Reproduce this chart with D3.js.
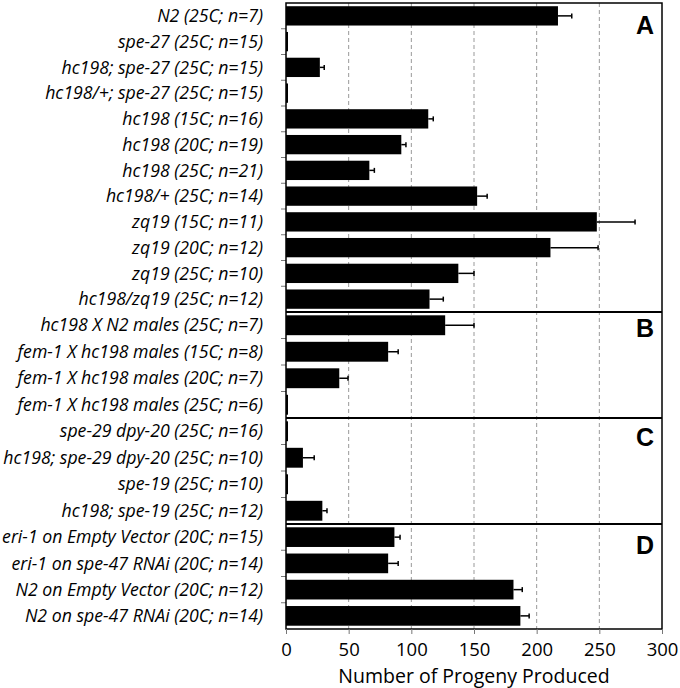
<!doctype HTML>
<html lang="en">
<head>
<title>Number of progeny produced</title>
<script src="https://d3js.org/d3.v7.min.js"></script>
<style type="text/css">
  body { margin: 0; background: white; }
  .label text { font-family: "Open Sans", sans-serif; font-style: italic; font-size: 17.7px; }
  .axis text { font-family: "Open Sans", sans-serif; font-size: 18.5px; }
</style>
</head>
<body>
<script type="text/javascript">

// data
var labels = [
	"N2 (25C; n=7)", "spe-27 (25C; n=15)", "hc198; spe-27 (25C; n=15)", "hc198/+; spe-27 (25C; n=15)",
	"hc198 (15C; n=16)", "hc198 (20C; n=19)", "hc198 (25C; n=21)", "hc198/+ (25C; n=14)",
	"zq19 (15C; n=11)", "zq19 (20C; n=12)", "zq19 (25C; n=10)", "hc198/zq19 (25C; n=12)",
	"hc198 X N2 males (25C; n=7)", "fem-1 X hc198 males (15C; n=8)", "fem-1 X hc198 males (20C; n=7)", "fem-1 X hc198 males (25C; n=6)",
	"spe-29 dpy-20 (25C; n=16)", "hc198; spe-29 dpy-20 (25C; n=10)", "spe-19 (25C; n=10)", "hc198; spe-19 (25C; n=12)",
	"eri-1 on Empty Vector (20C; n=15)", "eri-1 on spe-47 RNAi (20C; n=14)", "N2 on Empty Vector (20C; n=12)", "N2 on spe-47 RNAi (20C; n=14)"
];
var means = [217, 0.4, 27, 0.3, 113.5, 92, 66.5, 152.5, 248, 211, 137.5, 114.5,
	127, 81.5, 42.5, 0.3, 0.5, 13.5, 0.3, 29, 86.5, 81.5, 181.5, 187];
var errs = [11, 0, 3.5, 0, 4, 3.7, 4, 8, 30.5, 38, 12.5, 11,
	23, 8, 7, 0, 0, 9, 0, 3.7, 4.5, 8, 7, 7];
var panels = ["A", "B", "C", "D"];
var panelSizes = [12, 4, 4, 4];
var xTicks = [0, 50, 100, 150, 200, 250, 300];
var xTitle = "Number of Progeny Produced";

var W = 680, H = 688;
var plotLeft = 286, plotRight = 662, plotTop = 3, plotBottom = 629;
// the four panels were pasted together, so their heights are a bit uneven
var panelBounds = [[plotTop, 312], [312, 418], [418, 524], [524, plotBottom]];
var letterY = [25, 328, 437, 545];

var svg = d3.select("body").append("svg")
	.attr("width", W)
	.attr("height", H);

var x = d3.scaleLinear().domain([0, 300]).range([plotLeft, plotRight]);

// dashed gridlines
svg.append("g").selectAll("line")
	.data(xTicks.slice(1, -1))
	.enter().append("line")
	.attr("x1", d => x(d)).attr("x2", d => x(d))
	.attr("y1", plotTop).attr("y2", plotBottom)
	.attr("stroke", "#999")
	.attr("stroke-width", 1)
	.attr("stroke-dasharray", "4,3");

var start = 0;
panels.forEach(function(p, i) {
	var n = panelSizes[i];
	var idx = d3.range(start, start + n);
	start += n;

	var y = d3.scaleBand().domain(idx).range(panelBounds[i]).paddingInner(0.25).paddingOuter(0.125);
	var rowH = (panelBounds[i][1] - panelBounds[i][0]) / n;

	// row tick marks
	svg.append("g").selectAll("line")
		.data(d3.range(1, n))
		.enter().append("line")
		.attr("x1", plotLeft - 5).attr("x2", plotLeft)
		.attr("y1", k => panelBounds[i][0] + k * rowH)
		.attr("y2", k => panelBounds[i][0] + k * rowH)
		.attr("stroke", "#777");

	// bars
	svg.append("g").selectAll("rect")
		.data(idx)
		.enter().append("rect")
		.attr("x", x(0))
		.attr("y", d => y(d))
		.attr("width", d => Math.max(2, x(means[d]) - x(0)))
		.attr("height", y.bandwidth())
		.attr("fill", "black");

	// error bars
	var eg = svg.append("g").selectAll("g")
		.data(idx.filter(d => errs[d] > 0))
		.enter().append("g");
	eg.append("line")
		.attr("x1", d => x(means[d])).attr("x2", d => x(means[d] + errs[d]))
		.attr("y1", d => y(d) + y.bandwidth() / 2).attr("y2", d => y(d) + y.bandwidth() / 2)
		.attr("stroke", "black").attr("stroke-width", 1.5);
	eg.append("line")
		.attr("x1", d => x(means[d] + errs[d])).attr("x2", d => x(means[d] + errs[d]))
		.attr("y1", d => y(d) + y.bandwidth() / 2 - 2.5).attr("y2", d => y(d) + y.bandwidth() / 2 + 2.5)
		.attr("stroke", "black").attr("stroke-width", 1.5);

	// category labels
	svg.append("g").attr("class", "label").selectAll("text")
		.data(idx)
		.enter().append("text")
		.attr("x", 263)
		.attr("y", d => y(d) + y.bandwidth() / 2)
		.attr("dy", "0.35em")
		.attr("text-anchor", "end")
		.text(d => labels[d]);

	// panel letter
	svg.append("text")
		.attr("x", 645)
		.attr("y", letterY[i])
		.attr("dy", "0.35em")
		.attr("text-anchor", "middle")
		.attr("font-family", "Liberation Sans, Arial, sans-serif")
		.attr("font-weight", "bold")
		.attr("font-size", 25)
		.text(p);

	// separator line
	if (i > 0) {
		svg.append("line")
			.attr("x1", plotLeft).attr("x2", plotRight)
			.attr("y1", panelBounds[i][0]).attr("y2", panelBounds[i][0])
			.attr("stroke", "black").attr("stroke-width", 2);
	}
});

// frame
svg.append("rect")
	.attr("x", plotLeft).attr("y", plotTop)
	.attr("width", plotRight - plotLeft).attr("height", plotBottom - plotTop)
	.attr("fill", "none")
	.attr("stroke", "black")
	.attr("stroke-width", 1.5);

// bottom axis
var xAxis = svg.append("g")
	.attr("class", "axis")
	.attr("transform", "translate(0," + plotBottom + ")")
	.call(d3.axisBottom(x).tickValues(xTicks).tickSize(5).tickPadding(9));
xAxis.select(".domain").remove();
xAxis.selectAll(".tick line").attr("stroke", "#777");

svg.append("text")
	.attr("x", (plotLeft + plotRight) / 2)
	.attr("y", 683)
	.attr("text-anchor", "middle")
	.attr("font-family", "Open Sans, sans-serif")
	.attr("font-size", 19.5)
	.text(xTitle);

</script>
</body>
</html>
